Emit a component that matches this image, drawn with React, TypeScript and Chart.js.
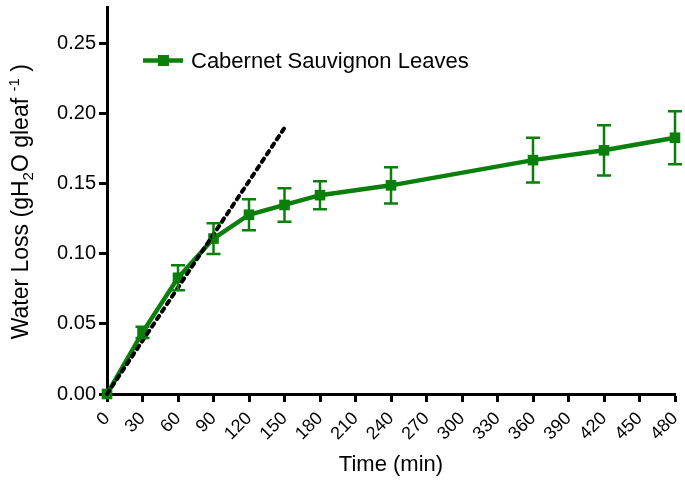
import { useEffect, useRef } from "react";
import { Chart, registerables } from "chart.js";
import type { Plugin } from "chart.js";

Chart.register(...registerables);

// values
const times = [0, 30, 60, 90, 120, 150, 180, 240, 360, 420, 480];
const waterLoss = [0, 0.044, 0.083, 0.111, 0.128, 0.135, 0.142, 0.149, 0.167, 0.174, 0.183];
const errors = [0.002, 0.004, 0.009, 0.011, 0.011, 0.012, 0.010, 0.013, 0.016, 0.018, 0.019];
const fitTimes = [0, 150];
const fitValues = [0, 0.19];
const yTicks = [0, 0.05, 0.1, 0.15, 0.2, 0.25];

const seriesLabel = "Cabernet Sauvignon Leaves";
const xTitle = "Time (min)";
const GREEN = "#0b7f0b";
const FONT = "'Liberation Sans', Arial, sans-serif";

// error bars drawn through the chart's own scales
const errorBars: Plugin<"line"> = {
  id: "errorBars",
  afterDatasetsDraw(chart) {
    const { ctx, scales } = chart;
    const xs = scales.x;
    const ys = scales.y;
    ctx.save();
    ctx.strokeStyle = GREEN;
    ctx.lineWidth = 2.5;
    times.forEach((t, i) => {
      if (errors[i] < 0.004) return;
      const x = xs.getPixelForValue(t);
      const top = ys.getPixelForValue(waterLoss[i] + errors[i]);
      const bot = ys.getPixelForValue(waterLoss[i] - errors[i]);
      ctx.beginPath();
      ctx.moveTo(x, top);
      ctx.lineTo(x, bot);
      ctx.moveTo(x - 7, top);
      ctx.lineTo(x + 7, top);
      ctx.moveTo(x - 7, bot);
      ctx.lineTo(x + 7, bot);
      ctx.stroke();
    });
    ctx.restore();
  },
};

// legend inside the plot, top left
const insideLegend: Plugin<"line"> = {
  id: "insideLegend",
  afterDraw(chart) {
    const { ctx, chartArea } = chart;
    const x0 = chartArea.left + 36;
    const y0 = chartArea.top + 53;
    ctx.save();
    ctx.strokeStyle = GREEN;
    ctx.lineWidth = 4.5;
    ctx.beginPath();
    ctx.moveTo(x0, y0);
    ctx.lineTo(x0 + 40, y0);
    ctx.stroke();
    ctx.fillStyle = GREEN;
    ctx.fillRect(x0 + 15, y0 - 5.5, 11, 11);
    ctx.fillStyle = "#000";
    ctx.font = `22px ${FONT}`;
    ctx.textBaseline = "middle";
    ctx.fillText(seriesLabel, x0 + 48, y0 + 1);
    ctx.restore();
  },
};

// axis titles; the y one has a subscript and a superscript
const axisTitles: Plugin<"line"> = {
  id: "axisTitles",
  afterDraw(chart) {
    const { ctx, chartArea } = chart;
    ctx.save();
    ctx.fillStyle = "#000";
    ctx.textBaseline = "middle";

    ctx.font = `22px ${FONT}`;
    ctx.textAlign = "center";
    ctx.fillText(xTitle, (chartArea.left + chartArea.right) / 2, 465);

    ctx.textAlign = "left";
    const parts: [string, number][] = [
      ["Water Loss (gH", 0],
      ["2", 1],
      ["O gleaf ", 0],
      ["-1", -1],
      [" )", 0],
    ];
    const big = `23px ${FONT}`;
    const small = `15px ${FONT}`;
    let total = 0;
    parts.forEach(([s, k]) => {
      ctx.font = k === 0 ? big : small;
      total += ctx.measureText(s).width;
    });
    ctx.translate(22, (chartArea.top + chartArea.bottom) / 2 + 1);
    ctx.rotate(-Math.PI / 2);
    let x = -total / 2;
    parts.forEach(([s, k]) => {
      ctx.font = k === 0 ? big : small;
      ctx.fillText(s, x, k * 7);
      x += ctx.measureText(s).width;
    });
    ctx.restore();
  },
};

export default function App() {
  const canvasRef = useRef<HTMLCanvasElement | null>(null);

  useEffect(() => {
    const canvas = canvasRef.current;
    if (!canvas) return;

    const chart = new Chart(canvas, {
      type: "line",
      data: {
        datasets: [
          {
            label: "fit",
            data: fitTimes.map((t, i) => ({ x: t, y: fitValues[i] })),
            borderColor: "#000",
            borderWidth: 4,
            borderDash: [4, 5],
            borderCapStyle: "round",
            pointRadius: 0,
          },
          {
            label: seriesLabel,
            data: times.map((t, i) => ({ x: t, y: waterLoss[i] })),
            borderColor: GREEN,
            backgroundColor: GREEN,
            borderWidth: 4.5,
            pointStyle: "rect",
            pointRadius: 7.5,
            pointBorderWidth: 0,
          },
        ],
      },
      options: {
        animation: false,
        responsive: true,
        maintainAspectRatio: false,
        clip: false,
        layout: { padding: { left: 0, right: 10, top: 5, bottom: 0 } },
        plugins: {
          legend: { display: false },
          tooltip: { enabled: false },
        },
        scales: {
          x: {
            type: "linear",
            min: 0,
            max: 480,
            border: { display: true, color: "#000", width: 3 },
            grid: {
              drawOnChartArea: false,
              drawTicks: true,
              tickLength: 8,
              tickWidth: 3,
              tickColor: "#000",
            },
            ticks: {
              stepSize: 30,
              minRotation: 45,
              maxRotation: 45,
              padding: 6,
              color: "#000",
              font: { family: FONT, size: 18 },
            },
            afterFit(scale) {
              scale.height = 89;
              scale.paddingLeft = 0;
              scale.paddingRight = 0;
            },
          },
          y: {
            type: "linear",
            min: 0,
            max: 0.276,
            border: { display: true, color: "#000", width: 3 },
            grid: {
              drawOnChartArea: false,
              drawTicks: true,
              tickLength: 8,
              tickWidth: 3,
              tickColor: "#000",
            },
            afterBuildTicks(scale) {
              scale.ticks = yTicks.map((v) => ({ value: v }));
            },
            ticks: {
              padding: 3,
              color: "#000",
              font: { family: FONT, size: 20 },
              callback: (v) => Number(v).toFixed(2),
            },
            afterFit(scale) {
              scale.width = 107;
              scale.paddingTop = 0;
              scale.paddingBottom = 0;
            },
          },
        },
      },
      plugins: [errorBars, insideLegend, axisTitles],
    });

    return () => chart.destroy();
  }, []);

  return (
    <div style={{ position: "fixed", left: 0, top: 0, width: 685, height: 483, background: "#fff" }}>
      <canvas ref={canvasRef}></canvas>
    </div>
  );
}
